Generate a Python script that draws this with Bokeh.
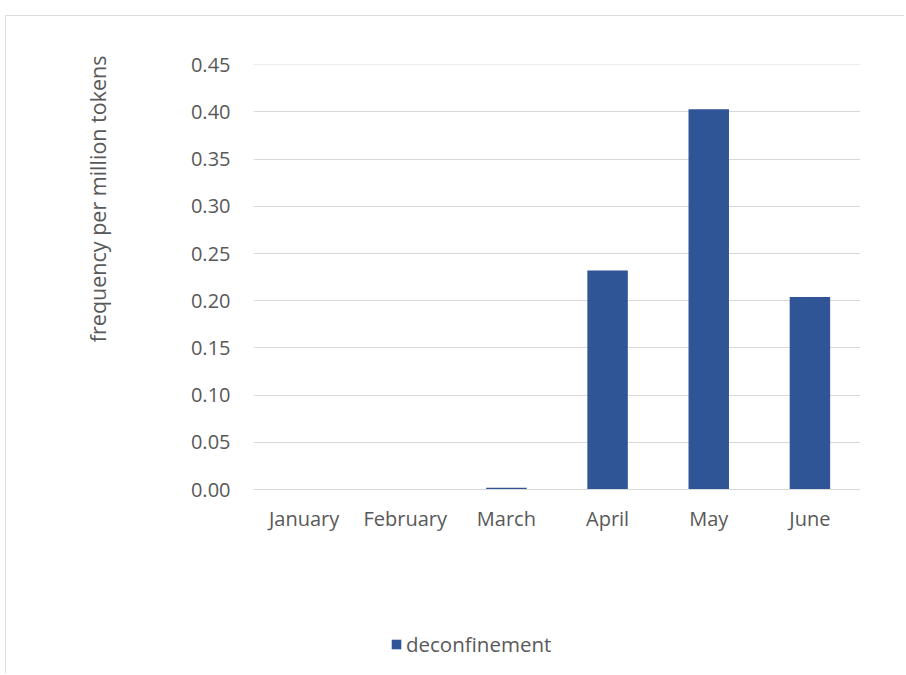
from bokeh.plotting import figure
from bokeh.models import (ColumnDataSource, Range1d, FixedTicker, Title, Legend, LegendItem)
from bokeh.embed import file_html
from bokeh.resources import INLINE

months = ["January", "February", "March", "April", "May", "June"]
values = [0.0, 0.0, 0.002, 0.232, 0.403, 0.204]
series_name = "deconfinement"
y_label = "frequency per million tokens"
y_ticks = [0.0, 0.05, 0.10, 0.15, 0.20, 0.25, 0.30, 0.35, 0.40, 0.45]

FONT = "Open Sans"
TXT = "#595959"
BAR = "#2F5597"
GRID = "#d9d9d9"
FS = "20px"

xpos = [i + 0.5 for i in range(len(months))]
src = ColumnDataSource(dict(x=xpos, top=values, month=months))

# frame extends to bottom of figure; the lower part holds x labels and legend
p = figure(width=899, height=658, output_backend="svg", toolbar_location=None,
           x_range=Range1d(0, len(months)), y_range=Range1d(-0.1959, 0.4503),
           min_border_left=247, min_border_right=45, min_border_top=48, min_border_bottom=0)
p.styles = {"margin-left": "5px", "margin-top": "15px",
            "border-left": "1px solid #dcdcdc", "border-top": "1px solid #dcdcdc"}

r = p.vbar(x="x", top="top", bottom=0, width=0.4, source=src, fill_color=BAR, line_color=None)

p.outline_line_color = None
p.background_fill_color = "white"
p.border_fill_color = "white"

p.xgrid.grid_line_color = None
p.ygrid.grid_line_color = GRID
p.ygrid.grid_line_width = 1
p.ygrid.ticker = FixedTicker(ticks=y_ticks)

p.yaxis.ticker = FixedTicker(ticks=y_ticks)
p.yaxis.major_label_overrides = {t: f"{t:.2f}" for t in y_ticks}
p.yaxis.axis_line_color = None
p.yaxis.major_tick_line_color = None
p.yaxis.minor_tick_line_color = None
p.yaxis.major_label_standoff = 17

p.xaxis.fixed_location = 0
p.xaxis.ticker = FixedTicker(ticks=xpos)
p.xaxis.major_label_overrides = {x: m for x, m in zip(xpos, months)}
p.xaxis.axis_line_color = GRID
p.xaxis.axis_line_width = 1
p.xaxis.major_tick_line_color = None
p.xaxis.minor_tick_line_color = None
p.xaxis.major_label_standoff = 9

for ax in (p.xaxis, p.yaxis):
    ax.major_label_text_font = FONT
    ax.major_label_text_font_size = FS
    ax.major_label_text_color = TXT

# spacer + y label on the left
p.add_layout(Title(text=" ", text_font_size="53px"), "left")
p.add_layout(Title(text=y_label, align="right", offset=-9, text_font=FONT,
                   text_font_size="21.5px", text_color=TXT, text_font_style="normal"), "left")

legend = Legend(items=[LegendItem(label=series_name, renderers=[r])],
                location=(137, 16), orientation="horizontal",
                label_text_font=FONT, label_text_font_size="20.5px", label_text_color=TXT,
                glyph_width=12, glyph_height=12, label_standoff=4,
                border_line_color=None, background_fill_alpha=0, padding=0, margin=0)
p.add_layout(legend)

open("out.html", "w").write(file_html(p, INLINE))
